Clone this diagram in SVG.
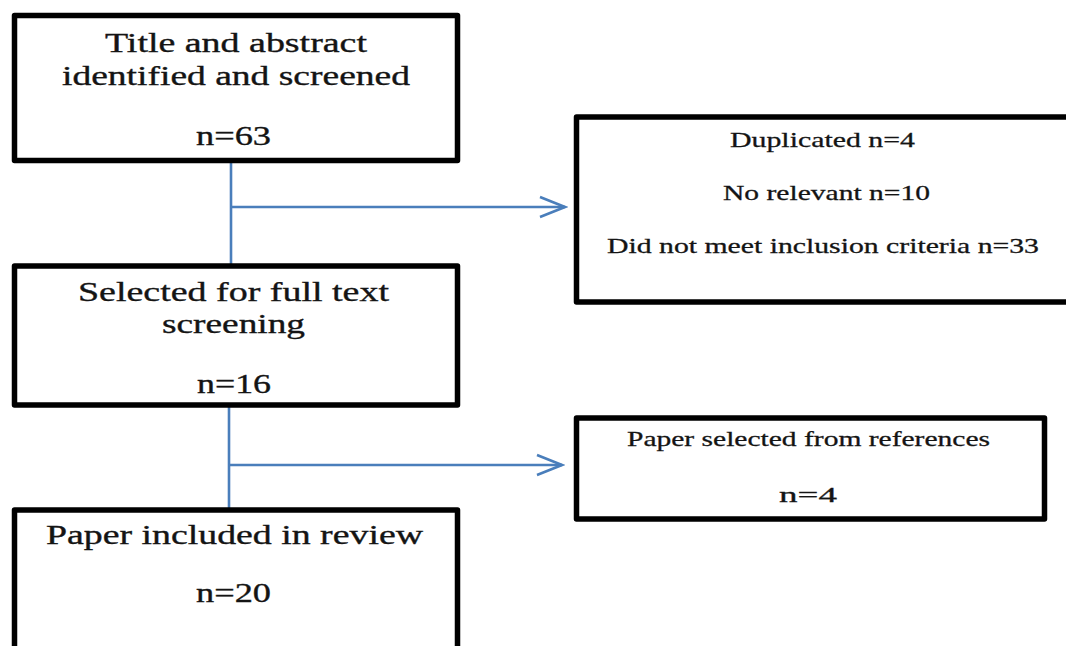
<svg xmlns="http://www.w3.org/2000/svg" width="1066" height="646" viewBox="0 0 1066 646">
  <style>
    .box { fill: #ffffff; stroke: #000000; stroke-width: 5.5; stroke-linejoin: round; }
    .big { font-family: "Liberation Serif", "Times New Roman", serif; font-size: 27px; fill: #141414; stroke: #141414; stroke-width: 0.35; }
    .small { font-family: "Liberation Serif", "Times New Roman", serif; font-size: 22px; fill: #141414; stroke: #141414; stroke-width: 0.3; }
    .conn { fill: none; stroke: #4a7ebb; stroke-width: 2.6; }
  </style>
  <defs>
    <marker id="arrow" markerUnits="userSpaceOnUse" markerWidth="30" markerHeight="26" refX="27" refY="13" orient="auto">
      <path d="M2,3 L27,13 L2,23" fill="none" stroke="#4a7ebb" stroke-width="2.6"/>
    </marker>
  </defs>
  <rect x="0" y="0" width="1066" height="646" fill="#ffffff"/>

  <g id="connectors">
    <line class="conn" x1="231" y1="161" x2="231" y2="266"/>
    <line class="conn" x1="231" y1="207" x2="565" y2="207" marker-end="url(#arrow)"/>
    <line class="conn" x1="229" y1="405" x2="229" y2="510"/>
    <line class="conn" x1="229" y1="465" x2="562" y2="465" marker-end="url(#arrow)"/>
  </g>

  <g id="node-screened">
    <rect class="box" x="14.5" y="15.5" width="443" height="145"/>
    <text class="big" x="105" y="52" textLength="262" lengthAdjust="spacingAndGlyphs">Title and abstract</text>
    <text class="big" x="62" y="85" textLength="348" lengthAdjust="spacingAndGlyphs">identified and screened</text>
    <text class="big" x="196" y="145" textLength="75" lengthAdjust="spacingAndGlyphs">n=63</text>
  </g>

  <g id="node-fulltext">
    <rect class="box" x="14.5" y="266" width="443" height="139"/>
    <text class="big" x="78" y="301" textLength="311" lengthAdjust="spacingAndGlyphs">Selected for full text</text>
    <text class="big" x="162" y="333" textLength="143" lengthAdjust="spacingAndGlyphs">screening</text>
    <text class="big" x="197" y="393" textLength="74" lengthAdjust="spacingAndGlyphs">n=16</text>
  </g>

  <g id="node-included">
    <rect class="box" x="14.5" y="510" width="443" height="150"/>
    <text class="big" x="46" y="544" textLength="377" lengthAdjust="spacingAndGlyphs">Paper included in review</text>
    <text class="big" x="196" y="602" textLength="75" lengthAdjust="spacingAndGlyphs">n=20</text>
  </g>

  <g id="node-excluded">
    <rect class="box" x="576.5" y="117" width="500" height="185"/>
    <text class="small" x="730" y="147" textLength="185" lengthAdjust="spacingAndGlyphs">Duplicated n=4</text>
    <text class="small" x="723" y="200" textLength="207" lengthAdjust="spacingAndGlyphs">No relevant n=10</text>
    <text class="small" x="607" y="253" textLength="432" lengthAdjust="spacingAndGlyphs">Did not meet inclusion criteria n=33</text>
  </g>

  <g id="node-references">
    <rect class="box" x="576.5" y="418" width="468" height="101"/>
    <text class="small" x="627" y="446" textLength="363" lengthAdjust="spacingAndGlyphs">Paper selected from references</text>
    <text class="small" x="779" y="502" textLength="58" lengthAdjust="spacingAndGlyphs">n=4</text>
  </g>
</svg>
